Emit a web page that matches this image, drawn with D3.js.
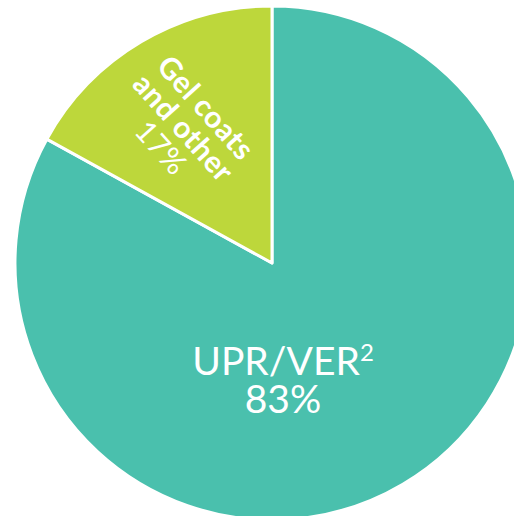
<!DOCTYPE html>
<html lang="en">
<head>
<meta charset="utf-8">
<script src="https://cdn.jsdelivr.net/npm/d3@7"></script>
<style type="text/css">
body {
	margin: 0;
	background-color: #ffffff;
}
</style>
</head>
<body>
<script type="text/javascript">

// chart data
var categories = ["UPR/VER", "Gel coats and other"];
var shares = [83, 17];
var colors = ["#4ac0ad", "#bdd73b"];

var width = 514, height = 516;
var cx = 272, cy = 263, radius = 257;

var svg = d3.select("body")
	.append("svg")
	.attr("width", width)
	.attr("height", height);

var g = svg.append("g")
	.attr("transform", "translate(" + cx + "," + cy + ")");

var pie = d3.pie().sort(null).value(function(d) { return d; });
var arc = d3.arc().innerRadius(0).outerRadius(radius);

g.selectAll("path")
	.data(pie(shares))
	.enter()
	.append("path")
	.attr("d", arc)
	.style("fill", function(d, i) { return colors[i]; })
	.style("stroke", "#fff")
	.style("stroke-width", 3)
	.style("stroke-linejoin", "round");

// big slice label
var big = g.append("text")
	.attr("text-anchor", "middle")
	.style("font-family", "Lato, sans-serif")
	.style("font-size", "39px")
	.style("fill", "#fff");

big.append("tspan").attr("x", 11).attr("y", 112)
	.text("UPR/VER")
	.append("tspan").attr("dy", -14).style("font-size", "24px").text("2");
big.append("tspan").attr("x", 11).attr("y", 150).text(shares[0] + "%");

// small slice label, rotated
var small = g.append("g")
	.attr("transform", "translate(-89,-135) rotate(48)");

var lines = ["Gel coats", "and other", shares[1] + "%"];
var weights = [700, 700, 400];

small.selectAll("text")
	.data(lines)
	.enter()
	.append("text")
	.attr("text-anchor", "middle")
	.attr("x", 0)
	.attr("y", function(d, i) { return (i - 1) * 30 + 10; })
	.style("font-family", "Lato, sans-serif")
	.style("font-size", "30px")
	.style("letter-spacing", "0.5px")
	.style("font-weight", function(d, i) { return weights[i]; })
	.style("fill", "#fff")
	.text(function(d) { return d; });

</script>
</body>
</html>
